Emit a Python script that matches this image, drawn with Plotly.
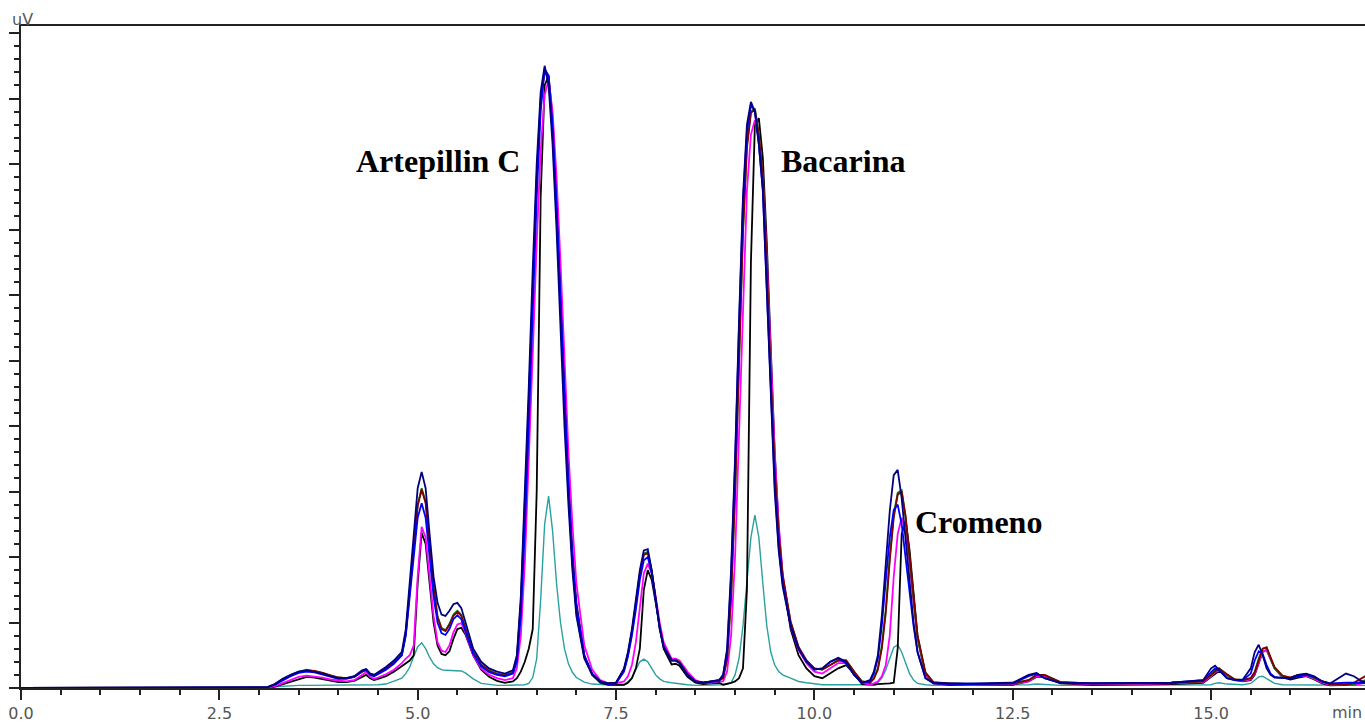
import plotly.graph_objects as go

# retention time (min)
t = [
    0.0, 3.0, 3.1, 3.2, 3.3, 3.4, 3.5, 3.6, 3.7, 3.8, 3.9, 4.0, 4.1, 4.2, 4.3, 4.35, 4.4, 4.45, 4.5, 4.6, 4.7, 4.8, 4.85,
    4.9, 4.95, 5.0, 5.05, 5.1, 5.15, 5.2, 5.25, 5.3, 5.35, 5.4, 5.45, 5.5, 5.55, 5.6, 5.7, 5.8, 5.9, 6.0, 6.1, 6.2,
    6.25, 6.3, 6.35, 6.4, 6.45, 6.5, 6.55, 6.6, 6.65, 6.7, 6.75, 6.8, 6.85, 6.9, 6.95, 7.0, 7.1, 7.2, 7.3, 7.4, 7.5,
    7.6, 7.65, 7.7, 7.75, 7.8, 7.85, 7.9, 7.95, 8.0, 8.05, 8.1, 8.2, 8.25, 8.3, 8.4, 8.5, 8.6, 8.7, 8.8,
    8.85, 8.9, 8.95, 9.0, 9.05, 9.1, 9.15, 9.2, 9.25, 9.3, 9.35, 9.4, 9.45, 9.5, 9.55, 9.6, 9.7, 9.8, 9.9, 10.0,
    10.1, 10.2, 10.3, 10.4, 10.5, 10.6, 10.7, 10.75, 10.8, 10.85, 10.9, 10.95, 11.0, 11.05, 11.1, 11.15, 11.2, 11.25, 11.3, 11.4, 11.5,
    11.7, 12.0, 12.5, 12.7, 12.8, 12.9, 13.1, 13.5, 14.0, 14.5, 14.9,
    15.0, 15.05, 15.1, 15.2, 15.3, 15.4, 15.5, 15.55, 15.6, 15.65, 15.7, 15.75, 15.8, 15.9, 16.0, 16.1, 16.2, 16.3, 16.4, 16.5, 16.6, 16.7, 16.8, 16.9, 17.0,
]

# detector signal (arbitrary uV units, one unit = one major y tick)
navy = [
    0, 0, 0.01, 0.06, 0.14, 0.2, 0.25, 0.27, 0.25, 0.22, 0.18, 0.15, 0.15, 0.18, 0.27, 0.29, 0.22, 0.2, 0.24, 0.32, 0.42, 0.55, 0.9,
    1.6, 2.4, 3.05, 3.3, 3.05, 2.35, 1.7, 1.3, 1.12, 1.1, 1.18, 1.28, 1.3, 1.22, 1.0, 0.6, 0.4, 0.3, 0.25, 0.22, 0.27,
    0.5, 1.4, 2.9, 4.6, 6.4, 8.0, 9.1, 9.5, 9.2, 8.3, 7.0, 5.5, 4.0, 2.8, 1.8, 1.1, 0.45, 0.2, 0.1, 0.07, 0.08,
    0.3, 0.55, 0.9, 1.35, 1.8, 2.1, 2.12, 1.8, 1.35, 0.9, 0.62, 0.42, 0.42, 0.38, 0.2, 0.1, 0.08, 0.1, 0.12,
    0.2, 0.6, 1.8, 3.5, 5.6, 7.5, 8.6, 8.95, 8.8, 8.3, 7.6, 6.0, 4.3, 3.0, 2.1, 1.55, 0.95, 0.6, 0.4, 0.28,
    0.3, 0.4, 0.46, 0.4, 0.2, 0.08, 0.12, 0.25, 0.5, 1.1, 1.9, 2.7, 3.25, 3.33, 2.9, 2.3, 1.6, 1.0, 0.55, 0.15, 0.08,
    0.07, 0.07, 0.08, 0.2, 0.23, 0.15, 0.08, 0.07, 0.07, 0.08, 0.12,
    0.3, 0.34, 0.28, 0.15, 0.12, 0.13, 0.3, 0.55, 0.66, 0.5, 0.3, 0.2, 0.16, 0.15, 0.15, 0.2, 0.22, 0.18, 0.1, 0.07, 0.15, 0.22, 0.18, 0.1, 0.08,
]
blue = [
    0, 0, 0.01, 0.05, 0.12, 0.18, 0.23, 0.25, 0.24, 0.21, 0.17, 0.14, 0.14, 0.17, 0.26, 0.28, 0.2, 0.18, 0.21, 0.28, 0.37, 0.5, 0.8,
    1.4, 2.05, 2.6, 2.82, 2.6, 2.0, 1.4, 1.0, 0.84, 0.81, 0.9, 1.05, 1.11, 1.05, 0.88, 0.52, 0.33, 0.24, 0.2, 0.18, 0.22,
    0.4, 1.1, 2.4, 4.0, 5.8, 7.5, 8.8, 9.45, 9.35, 8.6, 7.4, 5.9, 4.4, 3.1, 2.0, 1.25, 0.5, 0.22, 0.1, 0.06, 0.07,
    0.25, 0.48, 0.8, 1.2, 1.65, 1.95, 2.0, 1.75, 1.35, 0.92, 0.63, 0.42, 0.42, 0.38, 0.2, 0.1, 0.08, 0.09, 0.11,
    0.2, 0.55, 1.7, 3.4, 5.5, 7.4, 8.5, 8.9, 8.8, 8.3, 7.6, 6.1, 4.4, 3.1, 2.15, 1.6, 0.95, 0.6, 0.4, 0.28,
    0.3, 0.4, 0.45, 0.38, 0.2, 0.08, 0.1, 0.22, 0.45, 0.95, 1.65, 2.3, 2.72, 2.8, 2.5, 2.0, 1.45, 0.95, 0.55, 0.15, 0.07,
    0.06, 0.06, 0.07, 0.18, 0.22, 0.15, 0.08, 0.07, 0.07, 0.08, 0.12,
    0.25, 0.3, 0.27, 0.15, 0.12, 0.12, 0.22, 0.42, 0.56, 0.52, 0.35, 0.22, 0.17, 0.15, 0.15, 0.18, 0.2, 0.17, 0.1, 0.07, 0.08, 0.08, 0.08, 0.07, 0.07,
]
green = [
    0, 0, 0.01, 0.06, 0.14, 0.2, 0.25, 0.28, 0.26, 0.23, 0.19, 0.16, 0.15, 0.17, 0.25, 0.28, 0.22, 0.2, 0.23, 0.3, 0.4, 0.52, 0.85,
    1.5, 2.2, 2.8, 3.05, 2.85, 2.2, 1.55, 1.1, 0.92, 0.88, 0.98, 1.12, 1.18, 1.12, 0.92, 0.55, 0.36, 0.27, 0.22, 0.2, 0.24,
    0.45, 1.3, 2.7, 4.35, 6.1, 7.8, 9.0, 9.45, 9.3, 8.45, 7.2, 5.7, 4.2, 2.95, 1.9, 1.15, 0.47, 0.21, 0.1, 0.07, 0.08,
    0.28, 0.52, 0.86, 1.3, 1.75, 2.05, 2.08, 1.78, 1.35, 0.92, 0.63, 0.43, 0.43, 0.39, 0.21, 0.1, 0.08, 0.1, 0.12,
    0.15, 0.45, 1.4, 3.0, 5.0, 7.0, 8.3, 8.8, 8.85, 8.45, 7.8, 6.4, 4.7, 3.3, 2.3, 1.7, 1.0, 0.62, 0.42, 0.3,
    0.28, 0.35, 0.42, 0.42, 0.25, 0.1, 0.08, 0.15, 0.3, 0.65, 1.2, 2.0, 2.65, 2.98, 3.02, 2.6, 1.95, 1.3, 0.75, 0.22, 0.08,
    0.07, 0.06, 0.07, 0.12, 0.2, 0.2, 0.09, 0.07, 0.07, 0.08, 0.1,
    0.2, 0.27, 0.3, 0.2, 0.13, 0.12, 0.15, 0.25, 0.45, 0.6, 0.62, 0.45, 0.3, 0.18, 0.16, 0.2, 0.2, 0.15, 0.1, 0.06, 0.05, 0.05, 0.06, 0.1, 0.15,
]
darkred = [
    0, 0, 0.01, 0.05, 0.13, 0.19, 0.24, 0.27, 0.26, 0.23, 0.19, 0.16, 0.15, 0.17, 0.25, 0.27, 0.21, 0.19, 0.22, 0.29, 0.39, 0.5, 0.82,
    1.48, 2.18, 2.78, 3.03, 2.82, 2.18, 1.52, 1.08, 0.9, 0.87, 0.96, 1.1, 1.16, 1.1, 0.9, 0.54, 0.35, 0.26, 0.21, 0.19, 0.23,
    0.45, 1.28, 2.65, 4.3, 6.05, 7.75, 8.95, 9.42, 9.3, 8.5, 7.25, 5.75, 4.25, 3.0, 1.95, 1.18, 0.48, 0.21, 0.1, 0.07, 0.08,
    0.28, 0.51, 0.85, 1.28, 1.73, 2.03, 2.06, 1.78, 1.36, 0.93, 0.64, 0.43, 0.43, 0.39, 0.21, 0.1, 0.08, 0.1, 0.12,
    0.15, 0.45, 1.38, 2.95, 4.95, 6.95, 8.25, 8.78, 8.83, 8.45, 7.8, 6.45, 4.75, 3.35, 2.35, 1.72, 1.02, 0.63, 0.42, 0.3,
    0.28, 0.35, 0.42, 0.42, 0.25, 0.1, 0.08, 0.14, 0.28, 0.6, 1.15, 1.95, 2.6, 2.95, 3.0, 2.62, 2.0, 1.35, 0.8, 0.24, 0.09,
    0.07, 0.06, 0.07, 0.12, 0.2, 0.2, 0.09, 0.07, 0.07, 0.08, 0.1,
    0.2, 0.26, 0.3, 0.21, 0.13, 0.12, 0.15, 0.24, 0.43, 0.6, 0.62, 0.47, 0.32, 0.19, 0.16, 0.2, 0.21, 0.16, 0.1, 0.06, 0.05, 0.05, 0.08, 0.15, 0.22,
]
magenta = [
    0, 0, 0.0, 0.03, 0.08, 0.13, 0.17, 0.19, 0.18, 0.16, 0.13, 0.11, 0.1, 0.12, 0.2, 0.24, 0.17, 0.14, 0.16, 0.21, 0.28, 0.38, 0.45,
    0.5, 0.65, 1.7, 2.46, 2.3, 1.7, 1.1, 0.7, 0.57, 0.55, 0.65, 0.85, 0.97, 0.99, 0.85, 0.5, 0.3, 0.2, 0.15, 0.12, 0.15,
    0.3, 0.8, 1.9, 3.4, 5.1, 6.8, 8.2, 9.05, 9.28, 8.8, 7.8, 6.5, 5.0, 3.6, 2.5, 1.6, 0.65, 0.28, 0.12, 0.07, 0.07,
    0.1, 0.18, 0.35, 0.7, 1.25, 1.75, 1.9, 1.75, 1.4, 1.0, 0.7, 0.45, 0.45, 0.42, 0.25, 0.12, 0.08, 0.08, 0.1,
    0.1, 0.25, 0.8, 2.0, 3.8, 5.9, 7.6, 8.45, 8.67, 8.4, 7.8, 6.6, 5.0, 3.6, 2.5, 1.75, 0.95, 0.58, 0.38, 0.25,
    0.22, 0.3, 0.38, 0.38, 0.22, 0.08, 0.05, 0.07, 0.1, 0.18, 0.35, 0.8, 1.7, 2.35, 2.6, 2.4, 1.9, 1.3, 0.75, 0.2, 0.08,
    0.06, 0.05, 0.06, 0.1, 0.18, 0.18, 0.08, 0.06, 0.06, 0.07, 0.09,
    0.18, 0.24, 0.27, 0.2, 0.12, 0.11, 0.13, 0.22, 0.4, 0.55, 0.58, 0.45, 0.3, 0.17, 0.15, 0.18, 0.19, 0.14, 0.08, 0.05, 0.05, 0.05, 0.05, 0.07, 0.1,
]
black = [
    0, 0, 0.0, 0.02, 0.06, 0.1, 0.14, 0.17, 0.16, 0.14, 0.11, 0.09, 0.09, 0.11, 0.17, 0.2, 0.15, 0.12, 0.14, 0.18, 0.25, 0.33, 0.38,
    0.42, 0.5, 1.6, 2.37, 2.2, 1.6, 1.0, 0.65, 0.52, 0.5, 0.56, 0.75, 0.9, 0.92, 0.82, 0.5, 0.28, 0.17, 0.11, 0.08, 0.1,
    0.15, 0.25, 0.4, 0.6, 0.9, 3.0, 7.5, 9.2, 9.35, 8.7, 7.5, 6.0, 4.5, 3.2, 2.1, 1.3, 0.5, 0.2, 0.08, 0.05, 0.05,
    0.05, 0.08, 0.15, 0.3, 0.6, 1.5, 1.8, 1.65, 1.3, 0.9, 0.6, 0.36, 0.37, 0.34, 0.17, 0.08, 0.06, 0.07, 0.08,
    0.05, 0.06, 0.08, 0.1, 0.15, 0.3, 1.5, 6.5, 8.6, 8.7, 8.1, 6.8, 5.1, 3.6, 2.45, 1.7, 0.9, 0.5, 0.3, 0.18,
    0.15, 0.22, 0.3, 0.35, 0.22, 0.06, 0.05, 0.05, 0.06, 0.06, 0.07, 0.07, 0.08, 0.6, 2.35, 2.55, 2.1, 1.4, 0.8, 0.2, 0.07,
    0.05, 0.05, 0.05, 0.1, 0.17, 0.17, 0.07, 0.05, 0.05, 0.06, 0.08,
    0.17, 0.22, 0.26, 0.2, 0.12, 0.1, 0.12, 0.2, 0.38, 0.55, 0.58, 0.45, 0.3, 0.16, 0.13, 0.16, 0.18, 0.13, 0.07, 0.04, 0.04, 0.04, 0.05, 0.08, 0.12,
]
teal = [
    0, 0, 0.0, 0.02, 0.03, 0.04, 0.04, 0.04, 0.04, 0.04, 0.04, 0.04, 0.04, 0.04, 0.05, 0.05, 0.05, 0.05, 0.05, 0.06, 0.1, 0.15, 0.22,
    0.32, 0.48, 0.63, 0.69, 0.6, 0.47, 0.37, 0.31, 0.28, 0.27, 0.27, 0.27, 0.27, 0.26, 0.23, 0.14, 0.07, 0.05, 0.04, 0.04, 0.04,
    0.04, 0.04, 0.05, 0.07, 0.16, 0.45, 1.35, 2.5, 2.93, 2.4, 1.6, 1.0, 0.6, 0.37, 0.24, 0.16, 0.09, 0.06, 0.05, 0.04, 0.04,
    0.05, 0.1, 0.15, 0.28, 0.4, 0.44, 0.4, 0.3, 0.2, 0.14, 0.1, 0.08, 0.07, 0.07, 0.05, 0.04, 0.04, 0.04, 0.04,
    0.05, 0.06, 0.08, 0.2, 0.45, 0.95, 1.6, 2.3, 2.64, 2.3, 1.6, 0.95, 0.55, 0.35, 0.25, 0.2, 0.15, 0.1, 0.08, 0.06,
    0.05, 0.05, 0.05, 0.05, 0.04, 0.04, 0.05, 0.06, 0.08, 0.15, 0.28, 0.45, 0.62, 0.66, 0.55, 0.38, 0.22, 0.12, 0.07, 0.05, 0.04,
    0.04, 0.04, 0.04, 0.05, 0.06, 0.05, 0.04, 0.04, 0.04, 0.04, 0.04,
    0.05, 0.07, 0.08, 0.06, 0.05, 0.05, 0.07, 0.12, 0.17, 0.18, 0.14, 0.1, 0.07, 0.05, 0.05, 0.05, 0.05, 0.05, 0.04, 0.04, 0.04, 0.04, 0.04, 0.04, 0.04,
]

x_tick_vals = [0.0, 2.5, 5.0, 7.5, 10.0, 12.5, 15.0]
x_tick_text = ["0.0", "2.5", "5.0", "7.5", "10.0", "12.5", "15.0"]

peak_names = ["Artepillin C", "Bacarina", "Cromeno"]
peak_label_x = [5.26, 10.36, 12.07]
peak_label_y = [8.05, 8.05, 2.53]

series = [
    ("teal", teal, "#2AA0A0", 1.4),
    ("black", black, "#000000", 1.8),
    ("magenta", magenta, "#FF00FF", 1.8),
    ("green", green, "#008000", 1.8),
    ("darkred", darkred, "#800000", 1.8),
    ("blue", blue, "#0000FF", 1.8),
    ("navy", navy, "#000080", 1.8),
]
for name, arr, _, _ in series:
    assert len(arr) == len(t), (name, len(arr), len(t))

fig = go.Figure()
for name, arr, color, w in series:
    fig.add_trace(go.Scatter(x=t, y=arr, mode="lines", name=name,
                             line=dict(color=color, width=w), hoverinfo="skip"))

for name, px_, py_ in zip(peak_names, peak_label_x, peak_label_y):
    fig.add_annotation(x=px_, y=py_, xref="x", yref="y", text="<b>" + name + "</b>",
                       showarrow=False, xanchor="center", yanchor="middle",
                       font=dict(family="Liberation Serif, Times New Roman, serif", size=32, color="#000000"))

axis_font = dict(family="DejaVu Sans, Verdana, sans-serif", size=16, color="#555555")
fig.add_annotation(x=0, y=1, xref="paper", yref="paper", text="uV", showarrow=False,
                   xanchor="left", yanchor="middle", xshift=-11, yshift=7, font=axis_font)
fig.add_annotation(x=1, y=0, xref="paper", yref="paper", text="min", showarrow=False,
                   xanchor="right", yanchor="middle", xshift=-1, yshift=-24, font=axis_font)

fig.update_layout(
    width=1365, height=722,
    margin=dict(l=21, r=0, t=26, b=34),
    plot_bgcolor="white", paper_bgcolor="white",
    showlegend=False,
)
fig.update_xaxes(
    range=[0, 16.94], showgrid=False, zeroline=False,
    showline=True, linecolor="#222222", linewidth=2, mirror=True, layer="below traces",
    ticks="outside", ticklen=10, tickwidth=2, tickcolor="#222222",
    tickvals=x_tick_vals, ticktext=x_tick_text, tickfont=axis_font,
    minor=dict(ticks="outside", tick0=0, dtick=0.5, ticklen=5, tickwidth=2, tickcolor="#222222"),
)
fig.update_yaxes(
    range=[0, 10.107], showgrid=False, zeroline=False, showticklabels=False,
    showline=True, linecolor="#222222", linewidth=2, layer="below traces",
    ticks="outside", tick0=0, dtick=1, ticklen=10, tickwidth=2, tickcolor="#222222",
    minor=dict(ticks="outside", tick0=0, dtick=0.2, ticklen=5, tickwidth=2, tickcolor="#222222"),
)

fig.write_html("out.html")
